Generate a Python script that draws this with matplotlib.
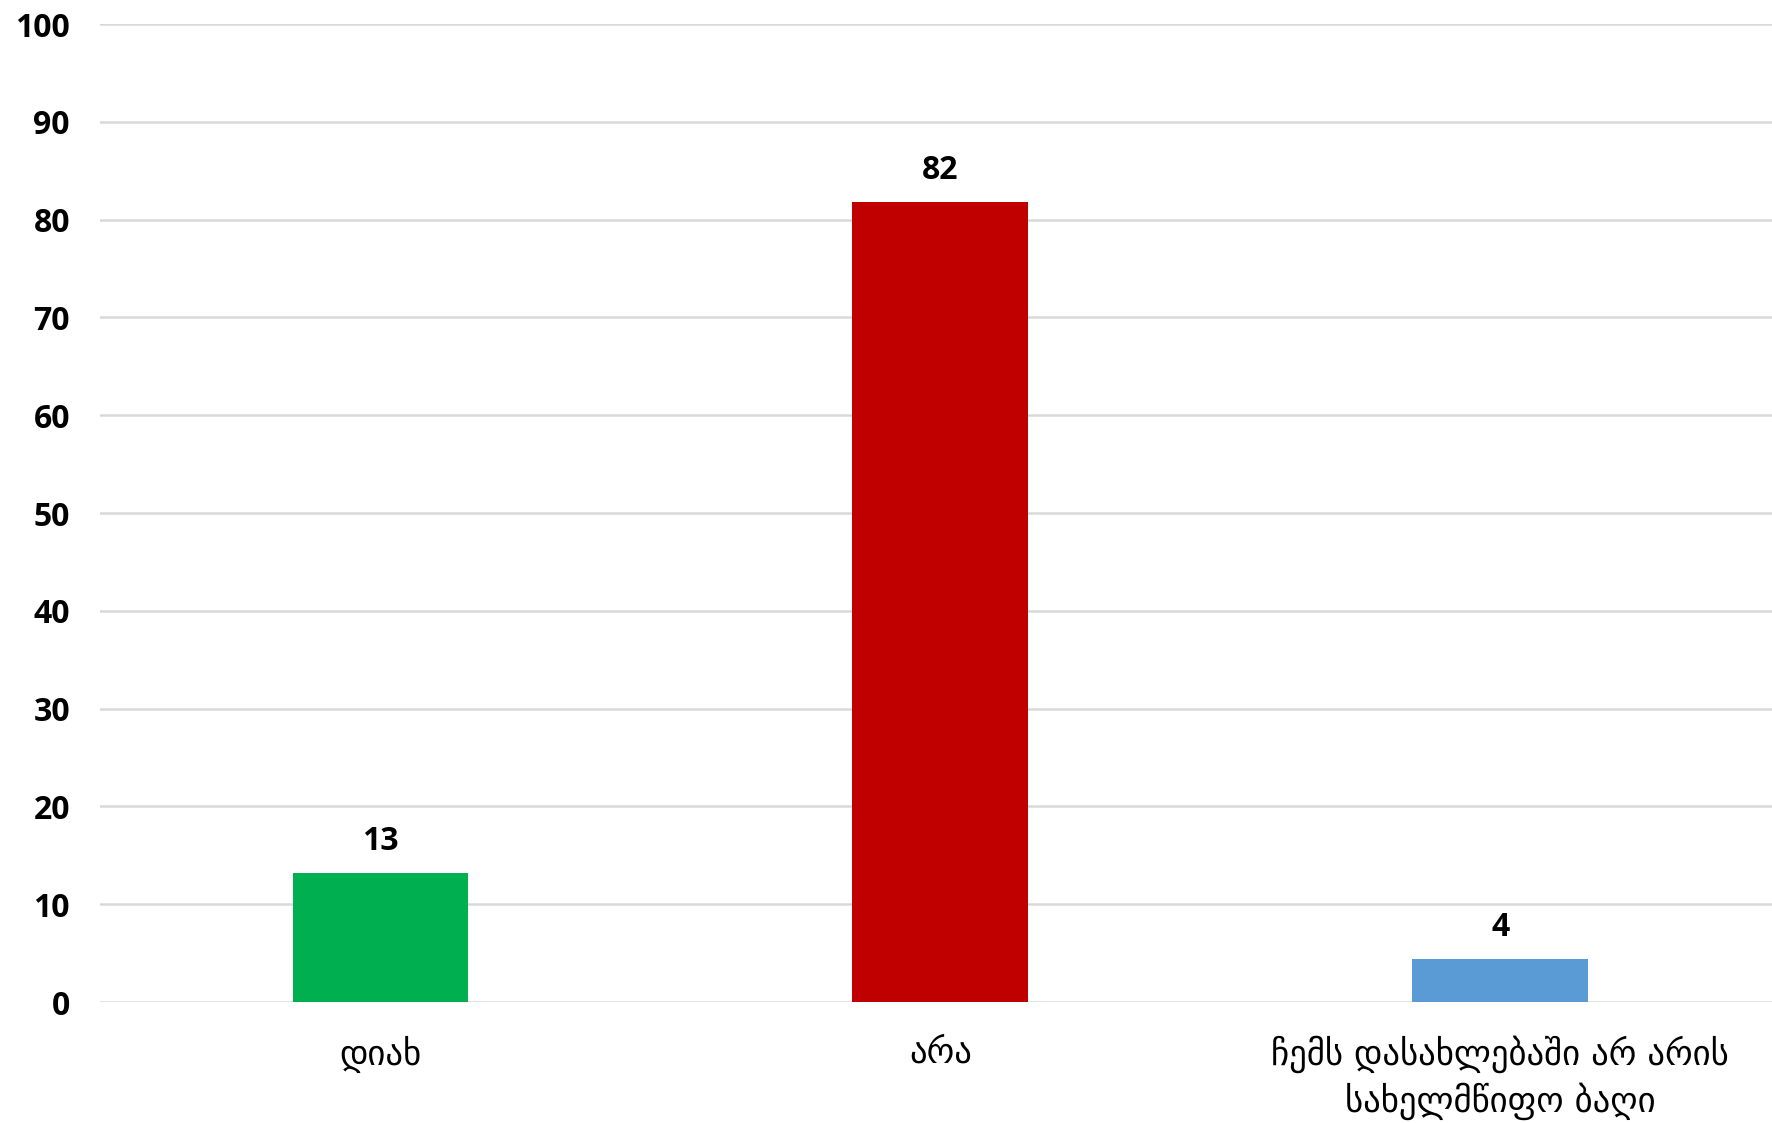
import matplotlib
matplotlib.use("Agg")
import matplotlib.pyplot as plt

categories = ["დიახ", "არა", "ჩემს დასახლებაში არ არის\nსახელმწიფო ბაღი"]
values = [13.2, 81.8, 4.4]
value_labels = ["13", "82", "4"]
colors = ["#00B050", "#C00000", "#5B9BD5"]
y_ticks = [0, 10, 20, 30, 40, 50, 60, 70, 80, 90, 100]

fig = plt.figure(figsize=(17.72, 11.23), dpi=100)
ax = fig.add_axes([0.0567, 0.1077, 0.948, 0.8709])

x = range(len(categories))
ax.bar(x, values, width=0.314, color=colors, zorder=3)

for i, v in enumerate(values):
    ax.text(i, v + 1.5, value_labels[i], ha="center", va="bottom",
            fontsize=23, fontweight="bold", family="Open Sans", color="#000000")

ax.set_xlim(-0.5, 2.5)
ax.set_ylim(0, 100)
ax.set_yticks(y_ticks)
ax.set_yticklabels([str(t) for t in y_ticks], fontsize=23, fontweight="bold",
                   family="Open Sans")
ax.set_xticks(list(x))
ax.set_xticklabels(categories, fontsize=25, family="DejaVu Sans", linespacing=1.3)

ax.grid(axis="y", color="#d9d9d9", linewidth=1.8, zorder=0)
for s in ax.spines.values():
    s.set_visible(False)
ax.tick_params(axis="both", length=0)
ax.tick_params(axis="y", pad=22)
ax.tick_params(axis="x", pad=24)

fig.savefig("out.png", dpi=100)
